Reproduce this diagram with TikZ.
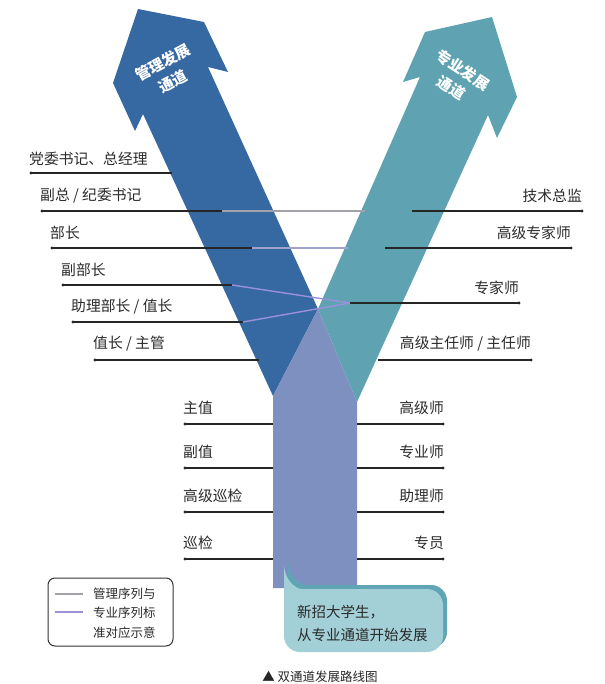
\documentclass[tikz,border=0pt]{standalone}
\usepackage{fontspec}
\setmainfont{Noto Sans CJK SC}
\definecolor{mgmtblue}{HTML}{3668A1}
\definecolor{proteal}{HTML}{5FA2B2}
\definecolor{stemblue}{HTML}{7E90BF}
\definecolor{calloutfill}{HTML}{A3CFD6}
\definecolor{calloutedge}{HTML}{5FA5B3}
\definecolor{linkgray}{HTML}{A2A2A8}
\definecolor{linkpurple}{HTML}{9A90DC}
\definecolor{linkmix}{HTML}{A0A2CC}
\definecolor{labeltext}{HTML}{2A2A2A}

\begin{document}
\begin{tikzpicture}[x=1pt,y=-1pt,
		rank/.style={font=\fontsize{14.8}{16}\selectfont, text=labeltext, inner sep=0pt},
		leftrank/.style={rank, anchor=west},
		rightrank/.style={rank, anchor=east},
		rankline/.style={draw=black!85, line width=1.1pt},
		graylink/.style={draw=linkgray, line width=1.3pt},
		purplelink/.style={draw=linkpurple, line width=1.4pt},
		channel/.style={text=white, font=\bfseries\fontsize{15}{21}\selectfont, align=center, inner sep=0pt}]
		\useasboundingbox (0,0) rectangle (604,684);
		
		% Draw channels
		\fill[mgmtblue] (138,9) -- (204,22) -- (228,72) -- (208,67) -- (318,309) -- (273,396) -- (143,114) -- (135,131) -- (113,83) -- cycle; % management
		\fill[proteal] (425,32) -- (492,17) -- (517,97) -- (497,138) -- (488,115) -- (357,402) -- (318,309) -- (420,77) -- (403,82) -- cycle; % professional
		\fill[stemblue] (318,309) -- (357,402) -- (357,588) -- (273,588) -- (273,396) -- cycle; % common stem
		
		\node[channel, rotate=28] (mgmtname) at (168,72) {管理发展\\通道};
		\node[channel, rotate=-33] (proname) at (457,79) {专业发展\\通道};
		
		% Left ranks
		\coordinate (m1) at (31,173);  \coordinate (m1e) at (172,173);
		\coordinate (m2) at (42,211);  \coordinate (m2k) at (222,211); \coordinate (m2e) at (365,211);
		\coordinate (m3) at (52,248);  \coordinate (m3k) at (252,248); \coordinate (m3e) at (348,248);
		\coordinate (m4) at (63,285);  \coordinate (m4k) at (232,285);
		\coordinate (m5) at (73,322);  \coordinate (m5k) at (243,322);
		\coordinate (m6) at (95,360);  \coordinate (m6e) at (259,360);
		
		% Right ranks
		\coordinate (t1) at (582,211); \coordinate (t1s) at (412,211);
		\coordinate (t2) at (571,248); \coordinate (t2s) at (385,248);
		\coordinate (t3) at (519,303); \coordinate (t3s) at (350,303);
		\coordinate (t4) at (531,360); \coordinate (t4s) at (378,360);
		
		\draw[rankline] (m1) -- (m1e);
		\draw[rankline] (m2) -- (m2k);
		\draw[rankline] (m3) -- (m3k);
		\draw[rankline] (m4) -- (m4k);
		\draw[rankline] (m5) -- (m5k);
		\draw[rankline] (m6) -- (m6e);
		\draw[rankline] (t1s) -- (t1);
		\draw[rankline] (t2s) -- (t2);
		\draw[rankline] (t3s) -- (t3);
		\draw[rankline] (t4s) -- (t4);
		
		% Links between the two sequences
		\draw[graylink] (m2k) -- (m2e);
		\draw[graylink, draw=linkmix] (m3k) -- (m3e);
		\draw[purplelink] (m4k) -- (t3s);
		\draw[purplelink] (m5k) -- (t3s);
		
		\foreach \c in {m1,m2,m3,m4,m5,m6,t1,t2,t3,t4}
		\fill[black!85] (\c) circle (1.7);
		
		\node[leftrank] (dangwei) at ([shift={(-2,-14)}]m1) {党委书记、总经理};
		\node[leftrank] (fuzong) at ([shift={(-2,-15)}]m2) {副总 / 纪委书记};
		\node[leftrank] (buzhang) at ([shift={(-2,-15)}]m3) {部长};
		\node[leftrank] (fubuzhang) at ([shift={(-2,-15)}]m4) {副部长};
		\node[leftrank] (zhuli) at ([shift={(-2,-15)}]m5) {助理部长 / 值长};
		\node[leftrank] (zhizhang) at ([shift={(-2,-16)}]m6) {值长 / 主管};
		\node[rightrank] (zongjian) at ([shift={(0,-15)}]t1) {技术总监};
		\node[rightrank] (gaozhuan) at ([shift={(0,-15)}]t2) {高级专家师};
		\node[rightrank] (zhuanjia) at ([shift={(0,-15)}]t3) {专家师};
		\node[rightrank] (zhuren) at ([shift={(0,-16)}]t4) {高级主任师 / 主任师};
		
		% Stem ranks
		\foreach \y/\lname/\rname [count=\i] in {424/主值/高级师, 468/副值/专业师, 512/高级巡检/助理师, 559/巡检/专员} {
			\coordinate (sl\i) at (185,\y);
			\coordinate (sle\i) at (273,\y);
			\coordinate (sr\i) at (443,\y);
			\coordinate (sre\i) at (357,\y);
			\draw[rankline] (sl\i) -- (sle\i);
			\draw[rankline] (sre\i) -- (sr\i);
			\fill[black!85] (sl\i) circle (1.7);
			\fill[black!85] (sr\i) circle (1.7);
			\node[leftrank] (sll\i) at ([shift={(-2,-16)}]sl\i) {\lname};
			\node[rightrank] (srl\i) at ([shift={(1,-16)}]sr\i) {\rname};
		}
		
		% Callout
		\fill[calloutedge, shift={(4,-4)}] (284,565) [rounded corners=16] -- (284,652) -- (443,652) -- (443,589) -- (318,589) [sharp corners] .. controls (296,589) and (285,581) .. (284,565);
		\fill[calloutfill] (284,565) [rounded corners=16] -- (284,652) -- (443,652) -- (443,589) -- (318,589) [sharp corners] .. controls (296,589) and (285,581) .. (284,565);
		\node[anchor=west, align=left, font=\fontsize{14.5}{23}\selectfont, text=labeltext, inner sep=0pt] (newhire) at (297,623.5) {新招大学生，\\从专业通道开始发展};
		
		% Legend
		\draw[draw=black!80, line width=1pt, rounded corners=7] (48,578) rectangle (173,646);
		\coordinate (g1) at (55,594); \coordinate (g2) at (83,594);
		\coordinate (p1) at (55,612); \coordinate (p2) at (83,612);
		\draw[graylink] (g1) -- (g2);
		\draw[purplelink] (p1) -- (p2);
		\node[anchor=west, align=left, font=\fontsize{12.5}{19.5}\selectfont, text=labeltext, inner sep=0pt] (legend) at (93,613) {管理序列与\\专业序列标\\准对应示意};
		
		% Caption
		\node[font=\fontsize{12.5}{14}\selectfont, text=black!85, inner sep=0pt] (caption) at (320,677) {▲ 双通道发展路线图};
	\end{tikzpicture}
\end{document}
